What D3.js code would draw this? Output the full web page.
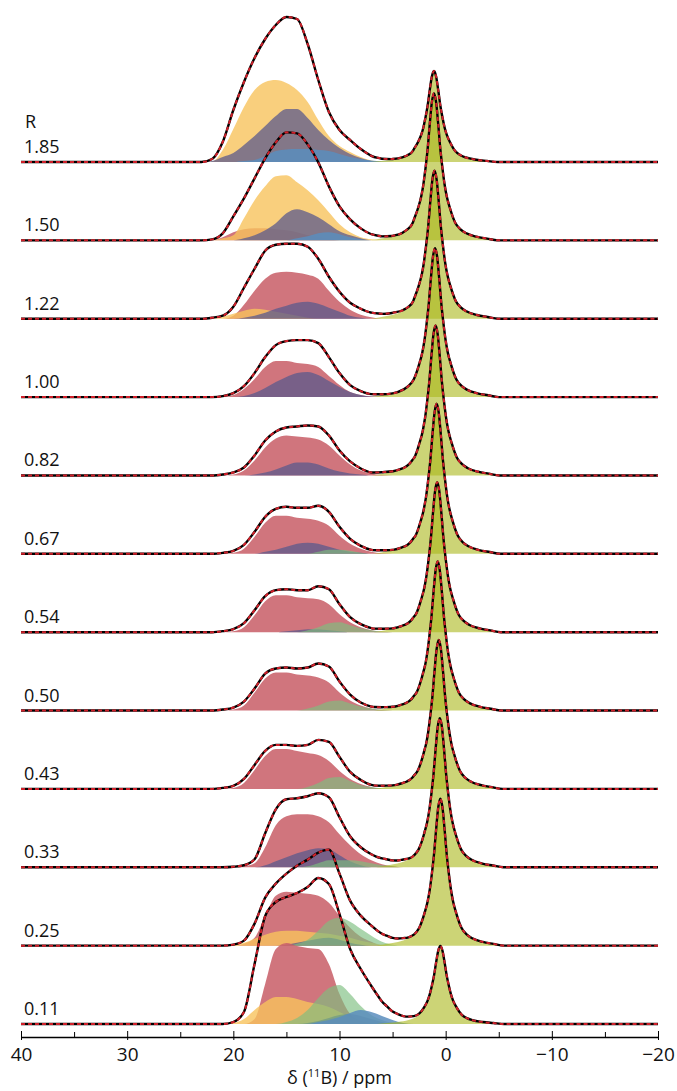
<!DOCTYPE html>
<html>
<head>
<meta charset="utf-8">
<script src="https://d3js.org/d3.v7.min.js"></script>
<style>
  body { margin: 0; background: #fff; }
  svg { display: block; }
  .lbl { font-family: "Open Sans", sans-serif; font-size: 18px; fill: #111; }
  .axis text { font-family: "Open Sans", sans-serif; font-size: 19px; fill: #111; }
</style>
</head>
<body>
<svg id="chart" width="677" height="1091"></svg>
<script>
// ratios R, top to bottom
const ratios = ["1.85", "1.50", "1.22", "1.00", "0.82", "0.67", "0.54", "0.50", "0.43", "0.33", "0.25", "0.11"];

// shared ppm grid for the broad (10-22 ppm) region
const ppmGrid = [24, 23, 22, 21, 20, 19, 18, 17, 16, 15, 14, 13, 12, 11, 10, 9, 8, 7, 6, 5, 4, 3];

// envelope of the broad region (fit / experiment), one row per spectrum
const envelope = [
  [0, 0, 3, 20, 52, 80, 104, 123, 137, 145, 143, 118, 82, 50, 32, 22, 13, 6, 2, 0.5, 0, 0],
  [0, 0, 1, 7, 24, 42, 62, 82, 98, 108, 107, 96, 78, 54, 34, 21, 12, 6, 2, 0.5, 0, 0],
  [0, 0, 1, 3, 12, 31, 50, 68, 74, 75, 75, 72, 60, 42, 27, 16, 10, 6, 3, 2, 1, 0],
  [0, 0, 0, 1, 4, 11, 24, 40, 52, 56, 57, 57, 54, 40, 24, 12, 6, 3, 1, 0, 0, 0],
  [0, 0, 0, 1, 3, 8, 20, 35, 44, 48, 49, 50, 49, 40, 25, 14, 7, 3, 1.5, 0.5, 0, 0],
  [0, 0, 0, 1, 3, 9, 22, 37, 45, 47, 46, 46, 48, 42, 27, 15, 8, 4, 2, 0.5, 0, 0],
  [0, 0, 0, 1, 3, 9, 22, 36, 42, 43, 42, 42, 46, 43, 28, 15, 8, 4, 2, 0.5, 0, 0],
  [0, 0, 0, 1, 3, 9, 22, 37, 42, 43, 42, 43, 47, 44, 29, 16, 8, 4, 2, 0.5, 0, 0],
  [0, 0, 0, 1, 3, 10, 24, 38, 44, 44, 43, 44, 49, 47, 32, 17, 9, 4, 2, 0.5, 0, 0],
  [0, 0, 0, 0, 0.5, 2, 8, 34, 58, 68, 69, 71, 74, 70, 50, 31, 20, 13, 8, 4, 2, 0],
  [0, 0, 0, 0, 1, 5, 22, 48, 62, 72, 80, 86, 93, 96, 72, 45, 30, 20, 11, 5, 2, 0],
  [0, 0, 0, 0, 2, 12, 60, 108, 122, 127, 131, 137, 146, 140, 110, 75, 55, 38, 22, 11, 5, 2]
];

// fitted components (null = not present)
const redComp = [
  null,
  [0, 0, 0, 3, 8, 11, 12, 12, 11, 10, 8, 5, 3, 1, 0, 0, 0, 0, 0, 0, 0, 0],
  [0, 0, 0, 0, 3, 14, 28, 40, 46, 47, 46, 44, 40, 28, 17, 9, 4, 1.5, 0, 0, 0, 0],
  [0, 0, 0, 0, 2, 8, 18, 30, 36, 36, 34, 33, 30, 21, 12, 5, 2, 0.5, 0, 0, 0, 0],
  [0, 0, 0, 0, 1, 5, 15, 28, 37, 40, 39, 38, 36, 30, 20, 11, 5, 2, 0.5, 0, 0, 0],
  [0, 0, 0, 0, 1, 5, 17, 31, 38, 38, 36, 35, 33, 28, 18, 10, 5, 2, 0.5, 0, 0, 0],
  [0, 0, 0, 0, 1, 5, 17, 31, 37, 37, 35, 34, 33, 28, 18, 10, 5, 2, 0.5, 0, 0, 0],
  [0, 0, 0, 0, 1, 5, 18, 32, 38, 38, 36, 35, 33, 28, 18, 10, 5, 2, 0.5, 0, 0, 0],
  [0, 0, 0, 0, 1, 6, 19, 33, 40, 40, 38, 36, 34, 28, 18, 10, 5, 2, 0, 0, 0, 0],
  [0, 0, 0, 0, 0, 1, 4, 20, 42, 51, 53, 53, 51, 45, 33, 22, 13, 7, 3, 1, 0, 0],
  [0, 0, 0, 0, 0, 2, 8, 30, 50, 54, 53, 52, 50, 43, 30, 18, 9, 4, 0, 0, 0, 0],
  [0, 0, 0, 0, 0, 0, 5, 40, 75, 81, 78, 76, 75, 60, 30, 10, 3, 0, 0, 0, 0, 0]
];
const yellowComp = [
  [0, 0, 0.5, 12, 33, 55, 72, 80, 82, 79, 72, 60, 42, 26, 16, 10, 5, 1.5, 0, 0, 0, 0],
  [0, 0, 0, 2, 5, 22, 40, 54, 64, 65, 58, 50, 40, 28, 16, 8, 3, 1, 0, 0, 0, 0],
  [0, 0, 0, 2, 5, 8, 10, 9, 7, 5, 3, 1, 0, 0, 0, 0, 0, 0, 0, 0, 0, 0],
  null, null, null, null, null, null, null,
  [0, 0, 0, 0, 1, 3, 7, 11, 14, 15, 15, 14, 13, 12, 10, 8, 5, 3, 1, 0, 0, 0],
  [0, 0, 0, 0, 1, 5, 14, 22, 27, 27, 25, 22, 20, 17, 12, 7, 3, 1, 0, 0, 0, 0]
];
const slateComp = [
  [0, 0, 1, 5, 9, 17, 26, 36, 46, 53, 53, 44, 32, 22, 14, 8, 4, 1, 0, 0, 0, 0],
  [0, 0, 0, 0, 0, 2, 5, 10, 17, 27, 31, 28, 23, 16, 9, 5, 2, 0, 0, 0, 0, 0],
  [0, 0, 0, 0, 0, 1, 3, 6, 10, 13, 16, 17, 15, 11, 7, 3, 1, 0, 0, 0, 0, 0],
  [0, 0, 0, 0, 0, 1, 4, 9, 15, 20, 24, 25, 22, 16, 10, 5, 2, 0.5, 0, 0, 0, 0],
  [0, 0, 0, 0, 0, 0, 1, 3, 6, 10, 13, 13, 11, 7, 4, 2, 1, 0, 0, 0, 0, 0],
  [0, 0, 0, 0, 0, 0, 0, 2, 4, 7, 10, 11, 10, 7, 4, 2, 1, 0, 0, 0, 0, 0],
  [0, 0, 0, 0, 0, 0, 0, 0, 0, 1, 2, 3, 3, 2, 1, 0, 0, 0, 0, 0, 0, 0],
  null, null,
  [0, 0, 0, 0, 0, 0, 0, 2, 6, 10, 14, 17, 19, 18, 12, 6, 2, 0, 0, 0, 0, 0],
  [0, 0, 0, 0, 0, 0, 0, 0, 0, 1, 3, 5, 7, 8, 6, 3, 1, 0, 0, 0, 0, 0],
  [0, 0, 0, 0, 0, 0, 0, 0, 0, 0, 0, 1, 3, 6, 9, 10, 8, 5, 2, 0, 0, 0]
];
const greenComp = [
  null, null, null, null, null,
  [0, 0, 0, 0, 0, 0, 0, 0, 0, 0, 0, 0, 2, 4, 4, 3, 1, 0, 0, 0, 0, 0],
  [0, 0, 0, 0, 0, 0, 0, 0, 0, 0, 0, 2, 5, 9, 10, 7, 4, 2, 0.5, 0, 0, 0],
  [0, 0, 0, 0, 0, 0, 0, 0, 0, 0, 0, 2, 5, 9, 10, 7, 4, 2, 0.5, 0, 0, 0],
  [0, 0, 0, 0, 0, 0, 0, 0, 0, 0, 0, 2, 6, 11, 12, 8, 4, 2, 0.5, 0, 0, 0],
  [0, 0, 0, 0, 0, 0, 0, 0, 0, 0, 0, 1, 4, 7, 7, 7, 6, 4, 2, 1, 0, 0],
  [0, 0, 0, 0, 0, 0, 0, 0, 0, 0, 2, 6, 15, 25, 28, 24, 17, 10, 4, 1, 0, 0],
  [0, 0, 0, 0, 0, 0, 0, 0, 0, 2, 6, 14, 26, 36, 39, 30, 18, 9, 4, 1, 0, 0]
];
const blueComp = [
  [0, 0, 0, 0, 0, 1, 2, 6, 11, 12.5, 13, 13, 12, 11, 8, 5, 3, 1.5, 0.5, 0, 0, 0],
  [0, 0, 0, 0, 0, 0, 0, 0, 0, 0, 2, 4, 7, 8, 6, 3, 1, 0, 0, 0, 0, 0],
  null, null, null, null, null, null, null, null, null,
  [0, 0, 0, 0, 0, 0, 0, 0, 0, 0, 0, 0, 2, 4, 7, 11, 14, 12, 8, 4, 1, 0]
];

// sharp (tetrahedral) line near 1 ppm
const sharpCenter = [1.1, 1.1, 1.05, 1.0, 0.95, 0.85, 0.8, 0.75, 0.65, 0.55, 0.5, 0.5];
const sharpHeight = [91, 147, 148, 149, 150, 150, 150, 149, 149, 149, 147, 78];
const sharpOffsets = [-6, -5, -4, -3, -2.5, -2, -1.5, -1.2, -1, -0.8, -0.6, -0.4, -0.2, 0, 0.2, 0.4, 0.6, 0.8, 1, 1.2, 1.5, 2, 2.5, 3, 4, 5, 6];
const sharpShape = [0, 0.012, 0.025, 0.05, 0.075, 0.12, 0.22, 0.3, 0.38, 0.49, 0.62, 0.79, 0.94, 1, 0.94, 0.79, 0.62, 0.49, 0.38, 0.3, 0.22, 0.12, 0.075, 0.05, 0.025, 0.012, 0];

const xTicks = [40, 30, 20, 10, 0, -10, -20];
const xMinorTicks = [35, 25, 15, 5, -5, -15];

const components = [
  { data: redComp, color: "#c9626b", op: 0.88 },
  { data: yellowComp, color: "#f7c35c", op: 0.8 },
  { data: slateComp, color: "#5b5a8c", op: 0.75 },
  { data: greenComp, color: "#7dbf7f", op: 0.65 },
  { data: blueComp, color: "#5b8dbd", op: 0.85 }
];

const svg = d3.select("#chart");

const x = d3.scaleLinear().domain([40, -20]).range([21, 658]);
const base = d3.scalePoint().domain(ratios).range([162, 1024]);
const h = d3.scaleLinear().domain([0, 100]).range([0, -100]);

// padded grid so everything is zero outside the broad region
const gridPad = [25, ...ppmGrid, 2];
function broadFn(row) {
  return d3.scaleLinear().domain(gridPad).range([0, ...row, 0]).clamp(true);
}
function sharpFn(i) {
  return d3.scaleLinear()
    .domain(sharpOffsets.map(o => sharpCenter[i] - o))
    .range(sharpShape.map(s => s * sharpHeight[i]))
    .clamp(true);
}

const area = d3.area()
  .x(d => x(d[0]))
  .y0(h(0))
  .y1(d => h(d[1]))
  .curve(d3.curveMonotoneX);

const line = d3.line()
  .x(d => x(d[0]))
  .y(d => h(d[1]))
  .curve(d3.curveMonotoneX);

ratios.forEach((r, i) => {
  const g = svg.append("g").attr("transform", `translate(0,${base(r)})`);

  // component fills
  components.forEach(c => {
    const row = c.data[i];
    if (!row) return;
    const pts = gridPad.map((p, k) => [p, k === 0 || k === gridPad.length - 1 ? 0 : row[k - 1]]);
    g.append("path")
      .attr("d", area(pts))
      .attr("fill", c.color)
      .attr("fill-opacity", c.op);
  });

  // sharp line fill
  const sf = sharpFn(i);
  const sharpPts = sharpOffsets.map(o => [sharpCenter[i] - o, 0]).map(d => [d[0], sf(d[0])]);
  g.append("path")
    .attr("d", area(sharpPts))
    .attr("fill", "#aab81a")
    .attr("fill-opacity", 0.6);

  // total: broad envelope + sharp line
  const bf = broadFn(envelope[i]);
  const knots = Array.from(new Set([40, 30, ...gridPad, ...sharpOffsets.map(o => sharpCenter[i] - o), -10, -20]))
    .sort((a, b) => b - a);
  const tot = knots.map(p => [p, bf(p) + sf(p)]);

  g.append("path")
    .attr("d", line(tot))
    .attr("fill", "none")
    .attr("stroke", "#000")
    .attr("stroke-width", 2.4);
  g.append("path")
    .attr("d", line(tot))
    .attr("fill", "none")
    .attr("stroke", "#d0202a")
    .attr("stroke-width", 2)
    .attr("stroke-dasharray", "4 3");

  svg.append("text")
    .attr("class", "lbl")
    .attr("x", 24)
    .attr("y", base(r) - 9)
    .text(r);
});

svg.append("text")
  .attr("class", "lbl")
  .attr("x", 25)
  .attr("y", base("1.85") - 34)
  .text("R");

// x axis
const axisY = 1037;
svg.append("g")
  .attr("class", "axis")
  .attr("transform", `translate(0,${axisY})`)
  .call(d3.axisBottom(x).tickValues(xMinorTicks).tickSize(-5).tickFormat(""))
  .call(g => g.select(".domain").remove());

const ax = svg.append("g")
  .attr("class", "axis")
  .attr("transform", `translate(0,${axisY})`)
  .call(d3.axisBottom(x).tickValues(xTicks).tickSizeInner(-6).tickSizeOuter(0).tickPadding(11));
ax.select(".domain").attr("stroke-width", 1.3);
ax.selectAll(".tick line").attr("y2", 3).attr("y1", -6);

svg.append("text")
  .attr("class", "lbl")
  .attr("x", x(10))
  .attr("y", 1084)
  .attr("text-anchor", "middle")
  .style("font-size", "18px")
  .html("δ (<tspan font-size='11' dy='-7'>11</tspan><tspan dy='7'>B) / ppm</tspan>");
</script>
</body>
</html>
